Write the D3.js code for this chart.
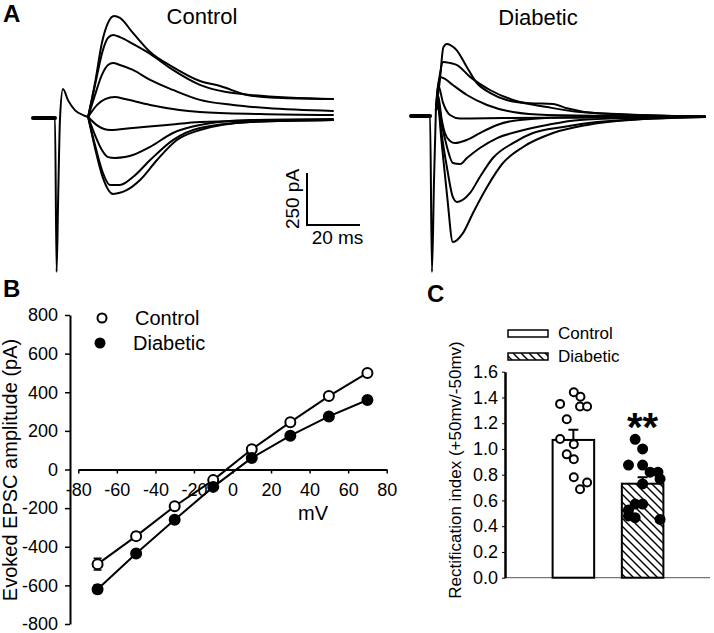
<!DOCTYPE html>
<html>
<head>
<meta charset="utf-8">
<script src="https://cdn.jsdelivr.net/npm/d3@7"></script>
<style>
body { margin: 0; background: #fff; }
svg text { font-family: "Liberation Sans", Arial, sans-serif; fill: #000; }
</style>
</head>
<body>
<svg id="fig" width="714" height="633"></svg>
<script>
// ---------- A : evoked EPSC traces, [ms, pA] ----------
const ctrlArtifact = [[0,0],[8.3,0],[8.9,-740],[9.5,-380],[10.2,0],[11.3,139],[13.2,86],[15.8,38],[18.9,14],[20.8,5]];
const ctrlTraces = [
  [[20.8,5],[23.4,168],[26.0,361],[28.3,457],[30.6,490],[32.8,481],[37.7,409],[44.2,317],[52.8,245],[63.0,178],[70.6,154],[80.8,111],[94.3,96],[113.2,91]],
  [[20.8,5],[23.8,183],[26.4,327],[28.3,385],[30.2,399],[32.8,389],[37.7,356],[44.2,308],[52.8,231],[63.0,159],[81.9,111],[113.2,91]],
  [[20.8,5],[23.4,111],[26.0,207],[28.3,255],[30.2,264],[32.8,255],[37.7,231],[44.2,183],[52.8,135],[63.0,87],[75.5,63],[88.3,48],[113.2,34]],
  [[20.8,5],[24.2,63],[27.2,91],[30.9,101],[34.7,91],[44.2,63],[63.0,29],[85.7,19],[113.2,14]],
  [[20.8,5],[24.5,-38],[29.1,-58],[37.7,-48],[50.6,-34],[63.0,-19],[85.7,-14],[113.2,-10]],
  [[20.8,5],[23.4,-82],[26.0,-154],[28.3,-188],[30.9,-192],[34.7,-188],[37.7,-178],[44.2,-139],[52.8,-72],[63.0,-34],[81.9,-10],[113.2,-5]],
  [[20.8,5],[23.4,-130],[26.0,-250],[29.1,-322],[32.8,-322],[37.7,-284],[44.2,-202],[52.8,-106],[63.0,-48],[81.9,-19],[113.2,-10]],
  [[20.8,5],[23.4,-144],[26.4,-288],[30.2,-365],[35.5,-346],[40.4,-298],[46.8,-202],[54.3,-106],[63.0,-58],[81.9,-19],[113.2,-10]]
];
const diabArtifact = [[0,0],[7.2,0],[7.9,-750],[8.7,-300],[9.4,29]];
const diabTraces = [
  [[9.4,29],[10.9,173],[12.2,330],[13.5,346],[15.0,340],[17.2,317],[21.0,237],[24.8,159],[29.8,111],[36.1,77],[44.9,61],[53.6,58],[58.8,37],[70.1,13],[110.9,-3]],
  [[9.4,29],[10.9,200],[12.1,260],[14.7,255],[17.4,245],[22.3,188],[29.8,125],[38.5,77],[51.3,43],[63.8,19],[110.9,-3]],
  [[9.4,29],[10.9,188],[12.8,178],[15.8,149],[21.1,101],[28.7,53],[38.5,19],[51.3,5],[110.9,-3]],
  [[9.4,29],[10.2,150],[12.1,63],[14.7,5],[18.5,-12],[34.7,-10],[63.8,-8],[110.9,-3]],
  [[9.4,29],[10.2,100],[11.5,-10],[12.8,-82],[14.7,-120],[16.6,-130],[21.1,-115],[26.0,-82],[32.5,-43],[41.1,-19],[63.8,-5],[110.9,-3]],
  [[9.4,29],[10.2,80],[11.5,-30],[13.6,-150],[15.8,-226],[18.5,-231],[21.1,-202],[26.0,-154],[32.5,-106],[41.1,-72],[51.3,-43],[63.8,-19],[110.9,-3]],
  [[9.4,29],[10.2,60],[11.5,-80],[13.6,-250],[15.8,-390],[17.4,-413],[22.3,-370],[26.0,-293],[30.9,-202],[38.5,-130],[46.0,-82],[57.4,-53],[70.2,-29],[110.9,-5]],
  [[9.4,29],[10.2,40],[11.5,-120],[13.6,-380],[15.8,-606],[19.6,-563],[23.4,-466],[28.7,-341],[34.7,-226],[42.3,-149],[53.6,-82],[66.4,-43],[82.6,-19],[110.9,-5]]
];
const scaleBarMs = 20;
const scaleBarPA = 250;

// ---------- B : I-V relation ----------
const ivVoltage = [-70, -50, -30, -10, 10, 30, 50, 70];
const ivControl = [-490, -345, -190, -55, 105, 245, 380, 500];
const ivControlErr = [30, 20, 10, 8, 10, 10, 15, 15];
const ivDiabetic = [-620, -435, -260, -90, 60, 175, 275, 360];
const ivDiabeticErr = [22, 12, 10, 8, 8, 8, 8, 8];
const ivTicksX = [-80, -60, -40, -20, 0, 20, 40, 60, 80];
const ivTicksY = [-800, -600, -400, -200, 0, 200, 400, 600, 800];

// ---------- C : rectification index ----------
const groups = ["Control", "Diabetic"];
const rectMean = [1.07, 0.73];
const rectSem = [0.08, 0.05];
const rectControlDots = [1.35, 1.44, 1.405, 1.33, 1.33, 1.23, 1.077, 1.036, 0.958, 0.92, 0.78, 0.74, 0.687];
const rectControlJitter = [-0.32, 0.01, 0.17, 0.16, 0.33, -0.16, -0.32, 0.01, -0.16, 0.01, 0.01, 0.33, 0.16];
const rectDiabeticDots = [1.075, 1.0, 0.875, 0.875, 0.82, 0.82, 0.767, 0.728, 0.526, 0.572, 0.572, 0.48, 0.466, 0.453];
const rectDiabeticJitter = [-0.18, 0, -0.34, 0, 0.18, 0.37, 0.42, 0, -0.34, -0.18, 0, -0.34, -0.18, 0.42];
const rectTicks = [0, 0.2, 0.4, 0.6, 0.8, 1.0, 1.2, 1.4, 1.6];

const svg = d3.select('#fig');

// hatch for diabetic bar
svg.append('defs').append('pattern')
    .attr('id', 'hatch')
    .attr('patternUnits', 'userSpaceOnUse')
    .attr('width', 8).attr('height', 8)
  .append('path')
    .attr('d', 'M-1,-1 L9,9 M-1,7 L1,9 M7,-1 L9,1')
    .attr('stroke', '#000')
    .attr('stroke-width', 1.4);

// panel letters
[['A', 3, 22], ['B', 3, 297], ['C', 427, 302]].forEach(p => {
    svg.append('text').attr('x', p[1]).attr('y', p[2])
        .attr('font-size', '24px').attr('font-weight', 'bold').text(p[0]);
});

// ===== A =====
const pxPerMs = 2.65, pxPerPA = 0.208;
function traceScales(x0, y0) {
    return {
        x: d3.scaleLinear().domain([0, 120]).range([x0, x0 + 120 * pxPerMs]),
        y: d3.scaleLinear().domain([-800, 600]).range([y0 + 800 * pxPerPA, y0 - 600 * pxPerPA])
    };
}
function drawTraces(sc, artifact, traces) {
    const line = d3.line().x(d => sc.x(d[0])).y(d => sc.y(d[1])).curve(d3.curveMonotoneX);
    const g = svg.append('g').attr('fill', 'none').attr('stroke', '#000')
        .attr('stroke-linejoin', 'round').attr('stroke-linecap', 'round');
    g.append('path').attr('d', line(artifact.slice(0, 2))).attr('stroke-width', 4);
    g.append('path').attr('d', line(artifact)).attr('stroke-width', 2);
    g.selectAll('.tr').data(traces).enter().append('path')
        .attr('class', 'tr')
        .attr('d', d => line(d))
        .attr('stroke-width', 2);
}
const scCtrl = traceScales(33, 118);
const scDiab = traceScales(411, 116);
drawTraces(scCtrl, ctrlArtifact, ctrlTraces);
drawTraces(scDiab, diabArtifact, diabTraces);

svg.append('text').attr('x', 202).attr('y', 24).attr('text-anchor', 'middle')
    .attr('font-size', '22px').text('Control');
svg.append('text').attr('x', 538).attr('y', 25).attr('text-anchor', 'middle')
    .attr('font-size', '22px').text('Diabetic');

// scale bar
const sbX = 307, sbY = 225;
const sbW = scCtrl.x(scaleBarMs) - scCtrl.x(0);
const sbH = scCtrl.y(0) - scCtrl.y(scaleBarPA);
svg.append('path')
    .attr('d', `M${sbX},${sbY - sbH} L${sbX},${sbY} L${sbX + sbW},${sbY}`)
    .attr('fill', 'none').attr('stroke', '#000').attr('stroke-width', 2);
svg.append('text').attr('transform', `translate(${sbX - 8}, ${sbY - sbH / 2}) rotate(-90)`)
    .attr('text-anchor', 'middle').attr('font-size', '19px').text(scaleBarPA + ' pA');
svg.append('text').attr('x', sbX + sbW / 2 + 4).attr('y', 244)
    .attr('text-anchor', 'middle').attr('font-size', '19px').text(scaleBarMs + ' ms');

// ===== B =====
const xB = d3.scaleLinear().domain([-80, 80]).range([78.3, 386.7]);
const yB = d3.scaleLinear().domain([-800, 800]).range([624, 315]);

const yAxisB = svg.append('g').attr('transform', 'translate(70,0)')
    .call(d3.axisLeft(yB).tickValues(ivTicksY).tickFormat(d => String(d))
        .tickSize(5).tickPadding(7).tickSizeOuter(0));
const xAxisB = svg.append('g').attr('transform', `translate(0,${yB(0)})`)
    .call(d3.axisBottom(xB).tickValues(ivTicksX).tickFormat(d => String(d))
        .tickSize(4).tickPadding(10).tickSizeOuter(0));
[yAxisB, xAxisB].forEach(a => {
    a.select('.domain').attr('stroke-width', 2);
    a.selectAll('.tick line').attr('stroke-width', 1.5);
    a.selectAll('text').attr('font-size', '18px').attr('font-family', null);
});

svg.append('text').attr('x', 313).attr('y', 520).attr('text-anchor', 'middle')
    .attr('font-size', '20px').text('mV');
svg.append('text').attr('transform', 'translate(17,470) rotate(-90)')
    .attr('text-anchor', 'middle').attr('font-size', '20px').text('Evoked EPSC amplitude (pA)');

const ivSeries = [
    { name: 'Control', vals: ivControl, err: ivControlErr, fill: '#fff' },
    { name: 'Diabetic', vals: ivDiabetic, err: ivDiabeticErr, fill: '#000' }
];
const lineB = d3.line().x(d => xB(d[0])).y(d => yB(d[1]));
ivSeries.forEach(s => {
    const pts = ivVoltage.map((v, i) => [v, s.vals[i], s.err[i]]);
    const g = svg.append('g');
    g.append('path').attr('d', lineB(pts)).attr('fill', 'none')
        .attr('stroke', '#000').attr('stroke-width', 2);
    pts.forEach(p => {
        const cx = xB(p[0]);
        g.append('path')
            .attr('d', `M${cx},${yB(p[1] - p[2])} L${cx},${yB(p[1] + p[2])} M${cx - 4},${yB(p[1] - p[2])} L${cx + 4},${yB(p[1] - p[2])} M${cx - 4},${yB(p[1] + p[2])} L${cx + 4},${yB(p[1] + p[2])}`)
            .attr('stroke', '#000').attr('stroke-width', 1.5);
    });
    g.selectAll('circle').data(pts).enter().append('circle')
        .attr('cx', d => xB(d[0])).attr('cy', d => yB(d[1]))
        .attr('r', 5).attr('fill', s.fill)
        .attr('stroke', '#000').attr('stroke-width', 2);
});

// legend B
svg.append('circle').attr('cx', 102).attr('cy', 318).attr('r', 4.5)
    .attr('fill', '#fff').attr('stroke', '#000').attr('stroke-width', 2);
svg.append('text').attr('x', 135).attr('y', 318).attr('dy', '0.35em')
    .attr('font-size', '20px').text('Control');
svg.append('circle').attr('cx', 100).attr('cy', 343).attr('r', 5.5).attr('fill', '#000');
svg.append('text').attr('x', 133).attr('y', 343).attr('dy', '0.35em')
    .attr('font-size', '20px').text('Diabetic');

// ===== C =====
const xC = d3.scaleBand().domain(groups).range([518, 698]).paddingInner(0.4).paddingOuter(0.5);
const yC = d3.scaleLinear().domain([0, 1.6]).range([577.7, 371.7]);
const bw = xC.bandwidth();

svg.append('line').attr('x1', 505).attr('x2', 710)
    .attr('y1', yC(0)).attr('y2', yC(0))
    .attr('stroke', '#555').attr('stroke-width', 1);

const yAxisC = svg.append('g').attr('transform', 'translate(505,0)')
    .call(d3.axisLeft(yC).tickValues(rectTicks).tickFormat(d3.format('.1f'))
        .tickSize(3).tickPadding(4).tickSizeOuter(0));
yAxisC.select('.domain').attr('stroke-width', 2.5);
yAxisC.selectAll('text').attr('font-size', '18px').attr('font-family', null);

svg.append('text').attr('transform', 'translate(461,470) rotate(-90)')
    .attr('text-anchor', 'middle').attr('font-size', '17px')
    .text('Rectification index (+50mv/-50mv)');

const fills = ['#fff', 'url(#hatch)'];
svg.selectAll('.bar').data(groups).enter().append('rect')
    .attr('class', 'bar')
    .attr('x', g => xC(g)).attr('width', bw)
    .attr('y', (g, i) => yC(rectMean[i]))
    .attr('height', (g, i) => yC(0) - yC(rectMean[i]))
    .attr('fill', (g, i) => fills[i])
    .attr('stroke', '#000').attr('stroke-width', 2);

groups.forEach((g, i) => {
    const cx = xC(g) + bw / 2;
    const top = yC(rectMean[i] + rectSem[i]);
    svg.append('path')
        .attr('d', `M${cx},${yC(rectMean[i])} L${cx},${top} M${cx - 5},${top} L${cx + 5},${top}`)
        .attr('stroke', '#000').attr('stroke-width', 2);
});

function dots(group, vals, jitter, fill) {
    const c = xC(group) + bw / 2;
    svg.selectAll(null).data(vals).enter().append('circle')
        .attr('cx', (d, i) => c + jitter[i] * bw)
        .attr('cy', d => yC(d))
        .attr('r', fill === '#000' ? 4.5 : 4)
        .attr('fill', fill).attr('stroke', '#000').attr('stroke-width', 2);
}
dots('Control', rectControlDots, rectControlJitter, '#fff');
dots('Diabetic', rectDiabeticDots, rectDiabeticJitter, '#000');

svg.append('text').attr('x', xC('Diabetic') + bw / 2).attr('y', 441)
    .attr('text-anchor', 'middle').attr('font-size', '40px').attr('font-weight', 'bold')
    .text('**');

// legend C
[['Control', '#fff', 333.5], ['Diabetic', 'url(#hatch)', 356.5]].forEach(l => {
    svg.append('rect').attr('x', 508).attr('y', l[2] - 3.5).attr('width', 40).attr('height', 7)
        .attr('fill', l[1]).attr('stroke', '#000').attr('stroke-width', 1.5);
    svg.append('text').attr('x', 558).attr('y', l[2]).attr('dy', '0.35em')
        .attr('font-size', '17px').text(l[0]);
});
</script>
</body>
</html>
